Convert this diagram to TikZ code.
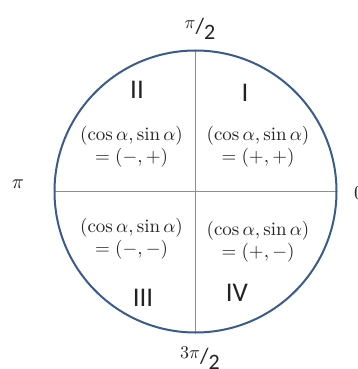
\documentclass[tikz,border=0pt]{standalone}
\usepackage{fontspec}
\usepackage{amsmath}
\usepackage{graphicx}
\newfontfamily\numfont{Carlito}
\definecolor{rimblue}{HTML}{3B5A8E}
\definecolor{axisblue}{HTML}{7394C0}
\definecolor{ink}{HTML}{222222}
\newcommand{\upmath}[2]{\scalebox{#1}{$#2$}}
\newcommand{\overtwo}{{\numfont\fontsize{22}{22}\selectfont /\raisebox{-6pt}{2}}}
\tikzset{
	quad/.style={text=ink, font=\numfont\fontsize{27}{27}\selectfont},
	pair/.style={text=ink, align=center, font=\fontsize{10}{22}\selectfont},
	axlabel/.style={text=ink, font=\fontsize{10}{10}\selectfont}
}

\begin{document}
\begin{tikzpicture}[x=1pt,y=-1pt]
		% Fix the page size
		\useasboundingbox (0,0) rectangle (357,369);
		
		% Centre of the circle
		\coordinate (O) at (195.5,191.5);
		\def\rad{141}
		
		% Axes through the centre
		\coordinate (E) at (336.5,191.5); \coordinate (W) at (54.5,191.5);
		\coordinate (N) at (195.5,50.5); \coordinate (S) at (195.5,332.5);
		\draw[axisblue, line width=1.3pt] (W) -- (E);
		\draw[axisblue, line width=1.3pt] (N) -- (S);
		
		% The circle itself
		\draw[rimblue, line width=2pt] (O) circle (\rad);
		
		% Quadrant numbers
		\node[quad] (q2) at (137,90) {II};
		\node[quad] (q1) at (245,93) {I};
		\node[quad] (q3) at (143,298) {III};
		\node[quad] (q4) at (237,293) {IV};
		
		% Signs of cos and sin
		\node[pair] (s2) at (131.5,147) {\upmath{1.9}{(\cos\alpha,\sin\alpha)}\\\upmath{1.9}{=(-,+)}};
		\node[pair] (s1) at (258,147) {\upmath{1.9}{(\cos\alpha,\sin\alpha)}\\\upmath{1.9}{=(+,+)}};
		\node[pair] (s3) at (131.5,239) {\upmath{1.9}{(\cos\alpha,\sin\alpha)}\\\upmath{1.9}{=(-,-)}};
		\node[pair] (s4) at (258,242) {\upmath{1.9}{(\cos\alpha,\sin\alpha)}\\\upmath{1.9}{=(+,-)}};
		
		% Angles at the four ends
		\node[axlabel] (a90) at (200,29) {\raisebox{5pt}{\upmath{1.8}{\pi}}\overtwo};
		\node[axlabel] (a180) at (18,184) {\upmath{2}{\pi}};
		\node[axlabel] (a0) at (359,193) {\upmath{2}{0}};
		\node[axlabel] (a270) at (200,358) {\raisebox{5pt}{\upmath{1.8}{3\pi}}\overtwo};
	\end{tikzpicture}
\end{document}
